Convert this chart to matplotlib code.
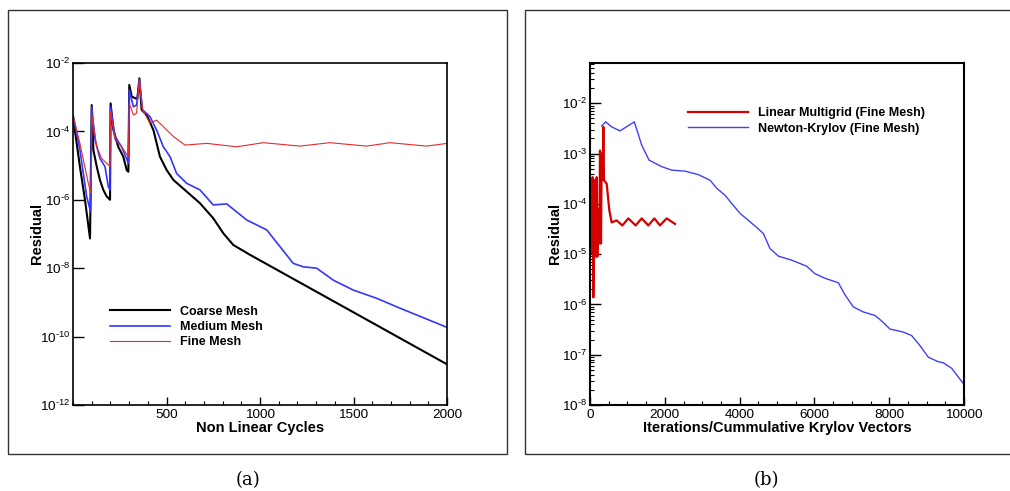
import numpy as np
import matplotlib
matplotlib.use("Agg")
import matplotlib.pyplot as plt
from matplotlib.ticker import FuncFormatter, MultipleLocator, LogLocator, NullFormatter, NullLocator
from matplotlib.patches import Rectangle

plt.rcParams['font.family'] = ['Liberation Sans', 'DejaVu Sans']
plt.rcParams['mathtext.fontset'] = 'custom'
plt.rcParams['mathtext.rm'] = 'Liberation Sans'
plt.rcParams['mathtext.default'] = 'regular'

# ---- panel (a): residual (log10) vs non linear cycles ----
coarse_x = [0, 37, 64, 91, 100, 109, 127, 144, 162, 180, 198, 201, 216, 242, 269, 287, 296,
            301, 314, 332, 344, 355, 367, 394, 430, 465, 501, 537, 608, 679, 750, 804, 857,
            947, 1500, 2000]
coarse_log = [-3.57, -5.03, -6.0, -7.13, -3.23, -4.54, -5.03, -5.42, -5.71, -5.9, -6.0, -3.18,
              -3.96, -4.45, -4.74, -5.13, -5.18, -2.64, -2.98, -3.03, -3.05, -2.45, -3.37,
              -3.52, -3.96, -4.74, -5.13, -5.42, -5.76, -6.1, -6.54, -6.98, -7.32, -7.61,
              -9.29, -10.81]

medium_x = [0, 37, 73, 94, 100, 118, 144, 171, 189, 198, 201, 225, 260, 296, 301, 323, 340,
            355, 372, 412, 447, 483, 519, 554, 608, 679, 750, 822, 929, 1036, 1107, 1178,
            1232, 1303, 1392, 1499, 1624, 1749, 2000]
medium_log = [-3.52, -4.54, -5.9, -6.35, -3.28, -4.25, -4.79, -5.03, -5.62, -5.71, -3.28,
              -4.15, -4.45, -4.93, -2.79, -3.28, -3.23, -2.5, -3.37, -3.57, -3.96, -4.45,
              -4.74, -5.23, -5.52, -5.71, -6.15, -6.12, -6.59, -6.88, -7.37, -7.86, -7.96,
              -8.0, -8.35, -8.64, -8.88, -9.17, -9.73]

fine_x = [0, 37, 82, 96, 102, 127, 153, 180, 198, 201, 225, 260, 296, 301, 323, 340, 355, 372,
          412, 447, 483, 537, 599, 715, 875, 1018, 1214, 1374, 1570, 1695, 1891, 2000]
fine_log = [-3.52, -4.35, -5.52, -5.81, -3.52, -4.45, -4.79, -4.93, -5.03, -3.42, -4.25,
            -4.45, -4.74, -3.18, -3.52, -3.47, -2.48, -3.37, -3.76, -3.67, -3.86, -4.15,
            -4.4, -4.35, -4.45, -4.33, -4.43, -4.33, -4.43, -4.33, -4.43, -4.35]

# ---- panel (b): residual (log10) vs iterations / krylov vectors ----
mg_x = [18, 45, 71, 89, 125, 160, 178, 196, 223, 250, 267, 294, 312, 339, 357, 374, 446, 517,
        579, 713, 865, 1025, 1221, 1381, 1560, 1720, 1872, 2050, 2272]
mg_log = [-4.2, -4.99, -3.47, -5.86, -3.53, -5.05, -3.47, -5.05, -4.1, -4.79, -2.94, -4.79,
          -3.0, -3.53, -2.47, -3.53, -3.6, -4.13, -4.37, -4.33, -4.43, -4.29, -4.43, -4.29,
          -4.43, -4.29, -4.43, -4.29, -4.4]

nk_x = [312, 419, 579, 802, 1185, 1381, 1578, 1916, 2184, 2540, 2897, 3209, 3387, 3610, 4011,
        4412, 4635, 4813, 5036, 5392, 5793, 6016, 6283, 6640, 6818, 7041, 7308, 7620, 7799,
        8021, 8378, 8601, 8824, 9046, 9314, 9447, 9670, 10000]
nk_log = [-2.45, -2.37, -2.47, -2.55, -2.37, -2.83, -3.13, -3.26, -3.33, -3.35, -3.42, -3.53,
          -3.69, -3.83, -4.19, -4.44, -4.59, -4.89, -5.04, -5.12, -5.24, -5.39, -5.48, -5.57,
          -5.81, -6.05, -6.15, -6.22, -6.33, -6.49, -6.55, -6.62, -6.82, -7.05, -7.14, -7.16,
          -7.27, -7.59]


def pow_fmt(v, pos):
    if v <= 0:
        return ''
    e = int(round(np.log10(v)))
    # plain hyphen in the exponent like the original plot
    return r'$10^{\text{-}%d}$' % abs(e) if e < 0 else r'$10^{%d}$' % e


fig = plt.figure(figsize=(10.1, 4.91), dpi=100)

# outer frames around the two sub figures
fig.patches.append(Rectangle((8 / 1010, 1 - 454 / 491), 499 / 1010, 444 / 491,
                             transform=fig.transFigure, fill=False, ec='#333333', lw=1.0))
fig.patches.append(Rectangle((525 / 1010, 1 - 454 / 491), 500 / 1010, 444 / 491,
                             transform=fig.transFigure, fill=False, ec='#333333', lw=1.0))

ax1 = fig.add_axes([73 / 1010, 86 / 491, 374 / 1010, 342 / 491])
ax2 = fig.add_axes([590 / 1010, 86 / 491, 374 / 1010, 342 / 491])

ax1.plot(coarse_x, 10 ** np.array(coarse_log), color='black', lw=1.5, label='Coarse Mesh')
ax1.plot(medium_x, 10 ** np.array(medium_log), color='#3535ff', lw=1.2, label='Medium Mesh')
ax1.plot(fine_x, 10 ** np.array(fine_log), color='#e52b2b', lw=0.8, label='Fine Mesh')
ax1.set_yscale('log')
ax1.set_xlim(0, 2000)
ax1.set_ylim(1e-12, 1e-2)
ax1.set_yticks([10.0 ** k for k in range(-12, -1, 2)])
ax1.yaxis.set_minor_locator(NullLocator())
ax1.yaxis.set_major_formatter(FuncFormatter(pow_fmt))
ax1.set_xticks([500, 1000, 1500, 2000])
ax1.xaxis.set_minor_locator(MultipleLocator(100))
ax1.set_xlabel('Non Linear Cycles', fontsize=10.5, fontweight='bold', labelpad=0)
ax1.set_ylabel('Residual', fontsize=10.5, fontweight='bold')
ax1.yaxis.set_label_coords(-0.078, 0.5)
ax1.legend(loc='upper left', bbox_to_anchor=(0.10, 0.29), frameon=False,
           prop={'weight': 'bold', 'size': 9}, handlelength=4.8, handletextpad=0.8,
           labelspacing=0.25, borderpad=0, borderaxespad=0)

ax2.plot(mg_x, 10 ** np.array(mg_log), color='#d40000', lw=1.6, label='Linear Multigrid (Fine Mesh)')
ax2.plot(nk_x, 10 ** np.array(nk_log), color='#3f3fff', lw=1.0, label='Newton-Krylov (Fine Mesh)')
ax2.set_yscale('log')
ax2.set_xlim(0, 10000)
ax2.set_ylim(1e-8, 10 ** -1.2)
ax2.yaxis.set_major_locator(LogLocator(base=10, numticks=20))
ax2.yaxis.set_minor_locator(LogLocator(base=10, subs=np.arange(2, 10), numticks=20))
ax2.yaxis.set_minor_formatter(NullFormatter())
ax2.yaxis.set_major_formatter(FuncFormatter(pow_fmt))
ax2.set_xticks([0, 2000, 4000, 6000, 8000, 10000])
ax2.xaxis.set_minor_locator(MultipleLocator(500))
ax2.set_xlabel('Iterations/Cummulative Krylov Vectors', fontsize=10.5, fontweight='bold', labelpad=0)
ax2.set_ylabel('Residual', fontsize=10.5, fontweight='bold')
ax2.yaxis.set_label_coords(-0.076, 0.5)
ax2.legend(loc='upper left', bbox_to_anchor=(0.262, 0.87), frameon=False,
           prop={'weight': 'bold', 'size': 9}, handlelength=4.8, handletextpad=0.8,
           labelspacing=0.25, borderpad=0, borderaxespad=0)

for ax, lw in ((ax1, 1.2), (ax2, 1.5)):
    for sp in ax.spines.values():
        sp.set_linewidth(lw)
    ax.tick_params(which='major', direction='in', length=6, width=1.0, labelsize=9.7, pad=3)
    ax.tick_params(which='minor', direction='in', length=3, width=0.8)
    ax.tick_params(axis='y', which='major', length=8, pad=2)

fig.text(248 / 1010, 1 - 480 / 491, '(a)', ha='center', va='center', fontsize=13,
         family='DejaVu Serif')
fig.text(766 / 1010, 1 - 480 / 491, '(b)', ha='center', va='center', fontsize=13,
         family='DejaVu Serif')

fig.savefig('out.png', dpi=100)
